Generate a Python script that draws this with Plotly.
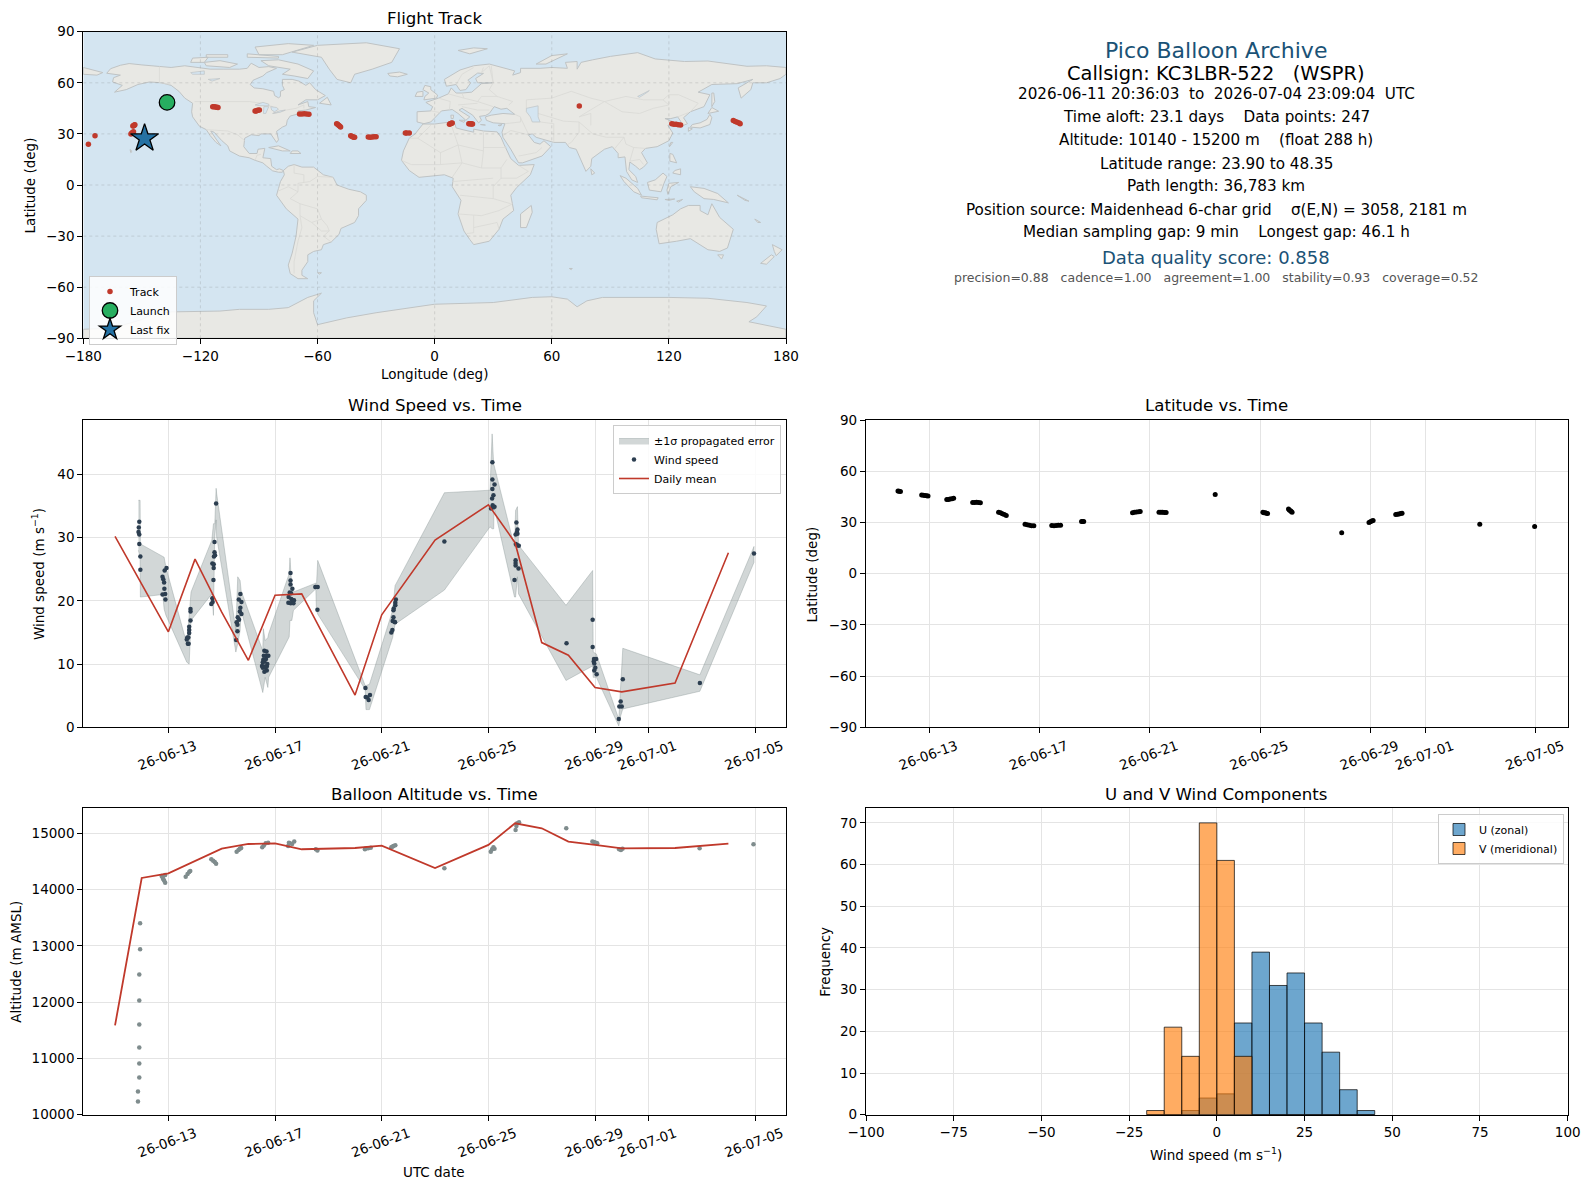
import numpy as np
import pandas as pd
import plotly.graph_objects as go

FIG_W = 1589
FIG_H = 1189

# land outlines (lon, lat)
north_america = [(-168,65.6),(-166,68.3),(-161,70.3),(-156.5,71.3),(-150,70.5),(-141,69.7),(-135,69),(-128,70),(-124,69.5),(-115,68),(-108,68),(-100,68),(-96,68.5),(-94,71.5),(-90,69),(-85,69.5),(-81,68.5),(-86,66),(-88,64),(-93,61.5),(-94.5,59),(-92.5,57),(-88,56.5),(-82.5,55),(-82,52.5),(-80,51.2),(-79,52),(-79,55),(-77,56),(-78,58.5),(-78,62),(-73,62),(-69.5,61),(-66,58.5),(-64,60),(-61,56),(-56,52.5),(-60,50),(-66,50),(-70,47),(-65,49),(-64.5,46),(-61,45.5),(-66,44),(-70,43.5),(-70,41.7),(-74,40.5),(-75.5,38),(-76,35),(-78,34),(-81,31.5),(-80,26.5),(-81,25),(-82.7,28),(-84,30),(-89,30),(-90,29),(-94,29.5),(-97.3,27.5),(-97.8,22.5),(-95,18.5),(-91,18.5),(-90.5,21),(-87,21.5),(-88,16),(-84,15.5),(-83.5,11),(-81,9),(-79.5,9.5),(-77.5,8.5),(-78,7.5),(-80,7.5),(-83,8.3),(-86,11),(-88,13),(-92,14.5),(-95,16),(-100,17),(-105,20),(-106,23),(-109,26),(-113,31),(-114.7,31.7),(-112,27),(-109.5,23),(-112,25),(-115,29),(-117,32.5),(-120.5,34.5),(-124,40),(-124.5,43),(-124,48),(-128,51),(-131,55),(-135,58.5),(-140,60),(-146,60.5),(-152,59),(-158,56),(-164,54.5),(-160,58.5),(-165,60.5),(-164.5,63),(-161,64.5)]
south_america = [(-77.5,8.5),(-75,11),(-72,12),(-68,10.5),(-62,10.5),(-57,6),(-52,4.5),(-50,0),(-44,-2.5),(-38,-4),(-35,-6),(-35,-9),(-39,-14),(-39,-18),(-41,-22),(-48,-25.5),(-49,-29),(-53,-33.5),(-57,-35),(-58,-38),(-62,-39),(-65,-41),(-65,-45),(-68,-50),(-68,-53),(-65,-55),(-70,-55),(-74,-52),(-75,-47),(-73,-40),(-71,-30),(-70,-20),(-76,-14),(-81,-6),(-80,-2),(-79,2),(-77,6)]
africa = [(-6,35.8),(0,35.8),(10,37.3),(11,33.5),(15,32.3),(20,31),(20,32.8),(25,31.7),(32,31.2),(34,28),(35.5,24),(37,20),(39,15.5),(43,11.5),(51,12),(49,6),(42,-1.5),(39,-6),(40.5,-15),(35,-20),(33,-26),(28,-33),(20,-35),(18,-32),(15,-27),(12,-17),(13.5,-9),(9,-1),(9.5,4),(5,6),(-4,5),(-8,4.5),(-13,8.5),(-17,14.5),(-16,20),(-13,27.5),(-10,30)]
eurasia = [(-9,37),(-9,43),(-2,43.5),(-1,46),(-4.5,48.5),(2,51),(7,53.5),(8.5,57),(11,54),(14,54),(19,54.5),(21.5,57),(24,59.5),(29.5,60),(22,60),(21,62.5),(25,65.5),(22,65.7),(17,61.5),(18.5,60),(16,56),(13,55.5),(11,59),(6,58),(5,62),(13,67.5),(20,70),(28,71),(41,67),(40,64.5),(44,66),(44,68.5),(54,68.5),(60,69),(68,68.5),(67,72),(73,72.5),(73,68),(75,72),(81,73.5),(90,75.5),(104,77.7),(113,74),(128,72.5),(140,72.8),(160,69.7),(170,70),(180,69),(180,65),(177,62.5),(170,60),(163,60),(162,56),(157,51),(155.5,57),(163,62),(155,59.5),(142,59),(135,54.5),(141,53),(138,46),(131,43),(127.5,39.5),(129.5,36),(126.5,34.5),(126,37.5),(124.5,40),(121,39),(118,39),(122.5,37),(119.5,35),(122,30.5),(120,26),(114,22.5),(108,21.5),(106,19),(109,13),(107,10.5),(105,9),(103,11),(100,13.5),(99.5,9),(103,5),(104,1.5),(101,3),(98.3,8),(97.5,16.5),(94,16),(94,18.5),(91,22.5),(87,21),(80.5,15.5),(80,11),(77.5,8),(73,20),(72.5,21),(69,22),(67,25),(61,25),(57,26.5),(52,28),(50,30),(48,29.5),(51,25),(54,24),(56,26),(59.5,22.5),(55,17),(45,13),(43,13),(39,21),(35,28),(34.5,31),(36,36),(30,36.5),(26.5,38),(26,40),(29,41),(35,42),(41,41.5),(37,45),(34,44.5),(30.5,46),(28,42),(26,40.8),(23,40.3),(24,38),(22.5,36.5),(19.5,41),(14,45),(12.5,44),(18,40),(16,38),(12,42),(9,44.3),(3.5,43.5),(0,39.5),(-2,37),(-5.5,36)]
chukotka = [(-180,69),(-175,67.5),(-170,66),(-173,64.5),(-180,65)]
greenland = [(-73,78),(-60,82),(-35,83.5),(-18,80),(-22,72),(-32,68),(-41,65),(-43,60),(-50,62),(-54,68),(-58,75)]
antarctica = [(-180,-90),(-180,-84.7),(-165,-84),(-150,-79),(-145,-76),(-135,-74.5),(-110,-74),(-100,-73),(-85,-73),(-75,-72),(-65,-66),(-58,-63.5),(-62,-68),(-62,-75),(-60,-82),(-45,-78),(-30,-75),(-13.5,-72.4),(0,-70),(30,-69),(50,-66),(60,-65.6),(68,-67),(73,-71.5),(78,-68),(86,-66),(120,-66),(140,-66.5),(160,-69),(170,-71),(165,-77.4),(161,-80.3),(180,-84.7),(180,-90)]
australia = [(114,-22),(122,-17.5),(126,-14),(130,-12),(136,-12),(136,-15),(140,-17.5),(142,-11),(146,-19),(153,-26),(150,-37),(146,-39),(140,-38),(135,-34.5),(131,-31.5),(124,-33),(115,-34.5),(113.5,-26)]
islands = [
    [(-24,65.5),(-18,66.3),(-14,65),(-19,63.5),(-23,64)],
    [(-5.5,50),(1,51),(1.5,52.8),(-2,56),(-2,57.7),(-5,58.5),(-6,56),(-3,54),(-5,52)],
    [(-10,52),(-6,52),(-6,55),(-9,54.5)],
    [(12,79),(20,80.5),(27,80),(18,77)],
    [(52,71),(57,71),(68,77),(60,76)],
    [(-80,73.5),(-70,71),(-62,67),(-65,62.5),(-72,64),(-78,65),(-74,68),(-85,70),(-89,73)],
    [(-117,70),(-105,69),(-101,71),(-110,73),(-118,72)],
    [(-90,76.5),(-78,76.5),(-62,82),(-75,83),(-92,81)],
    [(-125,72),(-118,72),(-116,75),(-124,74.5)],
    [(-96,75),(-80,74.5),(-80,75.5),(-96,77)],
    [(-117,75),(-106,75),(-106,76.5),(-117,76.5)],
    [(-59,48),(-53,47),(-55,51.5)],
    [(-85,22),(-80,23),(-74,20),(-78,20)],
    [(-74,18.5),(-68.5,18.5),(-70,20),(-73,20)],
    [(131,34),(136,33.5),(141,35.5),(142,39.5),(141,41.5),(139.5,38.5),(136,36.5),(132,35.5)],
    [(140,42),(145.5,43.3),(142,45.5)],
    [(130,31.5),(132,33),(130,33.7)],
    [(142,46),(143.5,49),(143,54),(142,54)],
    [(120.3,22.5),(122,25),(121,25)],
    [(120.5,18.5),(122,18),(124,13),(120.5,14)],
    [(122,7),(126,6),(126,9.5),(123,8.5)],
    [(109,1.5),(113,3),(117,7),(119,5),(117.5,1),(116,-4),(110,-3)],
    [(95,5.5),(98,4),(104,-2),(106,-6),(102,-4),(97,2)],
    [(105.5,-6.5),(114.5,-7.5),(114,-8.7),(106,-7.5)],
    [(119.5,-5.5),(121,-1),(125,1.5),(120,1),(119,-3)],
    [(131,-1),(138,-2),(145,-5),(150.5,-10.5),(143,-8.5),(138,-8),(133,-4)],
    [(145,-41),(148,-41),(147,-43.5)],
    [(173,-35),(178,-38),(175,-41.5),(174,-39)],
    [(172.5,-41),(174,-42),(170,-46.5),(167,-46)],
    [(49.5,-12),(50,-16),(47,-25),(44,-25),(44,-17)],
    [(80,9.5),(82,7),(80.5,6)],
    [(-156,20.8),(-155,19.7),(-155.7,19)],
    [(-60,-51.5),(-58,-51.5),(-59,-52.3)],
    [(12.5,38),(15.5,38),(15,36.8)],
    [(8.3,41),(9.7,41),(9.5,39),(8.5,39)],
    [(69,-49),(70.5,-49),(70,-49.7)],
    [(124,-9.5),(127,-8.5),(125,-10)],
    [(118,-8.5),(123,-8.2),(120,-9)],
    [(164,-20),(167,-22),(165.5,-22)],
    [(155,-6),(161,-9.5),(159,-9)],
    [(23.5,35.5),(26,35.2),(24.5,35)],
    [(32.5,35),(34.5,35.5),(33.5,34.7)],
]
inland_water = [
    [(47,45),(53,46.5),(53,40),(54,37),(50,37),(49,40),(47,43)],
    [(-92,47),(-88,48.5),(-85,47.5),(-85,46.5),(-90,46.6)],
    [(-87.5,46),(-85,46),(-86.5,42),(-87.7,42)],
    [(-84,46),(-81,45.5),(-80,44.5),(-82,43),(-83.5,44)],
    [(-83,42),(-79,42.8),(-76.5,44),(-79.5,43.5)],
    [(-125,66),(-118,67),(-118,65),(-124,65)],
    [(-116,62),(-110,62.5),(-114,61)],
    [(104,52),(110,55.5),(109,54.5),(105,51.5)],
]
borders = [
    [(-123,49),(-95,49),(-89,48),(-83,46),(-82,42),(-76,44),(-71,45),(-67,47),(-67,45)],
    [(-141,69.7),(-141,60),(-135,59)],
    [(-117,32.5),(-108,31.5),(-106,31.7),(-101,29.5),(-97.3,26)],
    [(-92,14.5),(-91,17.5),(-89,18)],
    [(-52,4.5),(-60,5),(-64,2),(-70,1),(-70,-4),(-74,-8),(-69,-11),(-60,-14),(-58,-20),(-55,-24),(-54,-27),(-57,-30),(-53,-33.5)],
    [(-69,-18),(-68,-25),(-70,-33),(-72,-45),(-72,-52)],
    [(-72,12),(-72,7),(-67,6),(-67,1.5)],
    [(-80,-3.5),(-75,-1),(-70,-4)],
    [(-69,-11),(-69,-18),(-63,-22),(-58,-20)],
    [(-63,-22),(-58,-27),(-54,-27)],
    [(-13,27.5),(-8.7,27.5),(-2,35)],
    [(-8.7,27.5),(3,19),(12,23.5),(10,30),(8,37)],
    [(12,23.5),(25,20),(25,31.7)],
    [(25,22),(37,22)],
    [(25,20),(24,10),(14,13),(12,23.5)],
    [(3,19),(3,12),(-12,12),(-17,14.5)],
    [(3,12),(14,13),(9,4.5)],
    [(24,10),(34,10),(37,15)],
    [(34,10),(34,4),(42,4),(48,8),(43,11.5)],
    [(34,4),(30,-1),(30,-8),(39,-11)],
    [(9,2),(18,3),(30,4)],
    [(13,-6),(30,-8)],
    [(12,-17),(24,-18),(33,-15),(40,-11)],
    [(20,-18),(20,-28),(16.5,-28.5)],
    [(20,-25),(32,-22),(33,-26)],
    [(28,70),(30,60),(28,56),(32,52),(40,49),(38,47)],
    [(47,45),(47,50),(60,51),(70,55),(80,51),(87,49),(98,52),(107,50),(117,50),(120,53),(125,53),(135,48),(131,43)],
    [(87,49),(96,43),(105,42),(112,45),(120,47),(117,50)],
    [(80,35),(80,42),(74,40),(87,49)],
    [(74,37),(78,33),(81,30),(88,28),(97,28),(98,24),(102,22),(108,21.5)],
    [(74,37),(74,31),(70,25),(68,23.7)],
    [(61,25),(61,36),(54,37)],
    [(48,30),(46,35),(44,39.5)],
    [(53,42),(66,37.5),(74,37)],
    [(36,36),(44,37),(44,40),(41,41.5)],
    [(35,29),(39,32),(48,29.5)],
    [(43,17),(52,19),(55,22)],
    [(-2,43.5),(3,42.5)],
    [(2,51),(8,49),(7.5,44)],
    [(7,53.5),(15,51),(14,54)],
    [(15,51),(22,49),(24,52),(32,52)],
    [(22,49),(30,46)],
    [(12,47),(22,48)],
    [(14,46),(22,44),(28,44)],
    [(11,59),(14,65),(20,69)],
    [(25,69),(24,66),(28,70)],
    [(30,60),(29,70)],
    [(97,28),(94,24),(92,21)],
    [(102,22),(100,14),(105,15),(107,12)],
    [(124.5,40),(130,42.5)],
]

# track: time as day of June 2026 (31 = 1 July), lat, lon
track_day = [11.86,11.90,11.95, 12.72,12.78,12.84,12.90,12.95, 13.63,13.69,13.75,13.82,13.88,
             14.57,14.64,14.71,14.78,14.85, 15.51,15.58,15.65,15.72,15.79, 16.47,16.55,16.63,16.71,16.79,
             17.44,17.52,17.60,17.68,17.76, 18.52,18.56,18.60, 20.37,20.44,20.52,20.60,20.65,
             21.33,21.40,21.46,21.53,21.59, 23.37, 25.10,25.14,25.19,25.23,25.27,
             26.03,26.06,26.10,26.13,26.16, 27.96, 28.95,29.00,29.05,29.10,
             29.92,29.98,30.04,30.10,30.15, 32.97, 34.96]
track_lat = [48.35,48.2,48.1, 46.0,45.9,45.8,45.6,45.5, 43.4,43.5,43.7,43.9,44.1,
             41.7,41.7,41.8,41.7,41.6, 36.0,35.6,35.1,34.6,34.1, 28.9,28.6,28.3,28.1,28.0,
             28.2,28.1,28.2,28.3,28.3, 30.5,30.6,30.6, 35.7,35.9,36.1,36.3,36.4,
             35.9,36.0,35.9,35.8,35.8, 46.4, 35.9,35.7,35.6,35.4,35.2,
             37.8,37.3,36.9,36.4,35.9, 23.9, 30.0,30.4,30.8,31.2,
             34.7,34.8,35.0,35.2,35.4, 28.9, 27.6]
track_lon = [-137.2,-136.9,-136.5, -113.7,-113.0,-112.3,-111.6,-111.0, -92.0,-91.5,-91.0,-90.5,-89.8,
             -69.2,-68.0,-66.8,-65.6,-64.4, -50.2,-49.7,-49.2,-48.7,-48.2, -43.0,-42.5,-42.0,-41.5,-41.0,
             -34.0,-33.0,-32.0,-31.0,-30.0, -15.0,-14.3,-13.0, 7.6,8.0,8.3,8.6,9.0,
             17.5,18.0,18.5,19.0,19.4, 74.1, 121.5,122.6,123.7,124.8,126.0,
             153.0,154.0,155.0,156.0,156.5, -177.4, -155.6,-155.2,-154.8,-154.3,
             -154.6,-154.3,-154.0,-153.8,-153.6, -174.0, -148.6]
launch_lon = [-137.1]
launch_lat = [48.5]
last_lon = [-148.6]
last_lat = [27.4]

# wind speed points
wind_day = [11.91,11.89,11.88,11.91,11.91,11.95,11.95,
            12.93,12.86,12.78,12.81,12.84,12.85,12.88,12.78,12.89,
            13.83,13.83,13.83,13.78,13.78,13.78,13.71,13.69,13.75,13.73,13.76,
            14.79,14.73,14.73,14.75,14.71,14.65,14.70,14.70,14.69,14.65,14.66,14.61,
            15.70,15.64,15.74,15.70,15.68,15.74,15.60,15.65,15.56,15.59,15.59,15.54,
            16.60,16.68,16.58,16.68,16.75,16.56,16.66,16.54,16.60,16.71,16.51,16.59,16.69,16.54,16.64,16.69,16.60,
            17.58,17.58,17.58,17.65,17.55,17.60,17.51,17.61,17.65,17.71,17.50,17.59,17.69,
            18.51,18.60,18.59,
            20.39,20.40,20.46,20.56,20.51,
            21.53,21.51,21.51,21.45,21.44,21.44,21.41,21.48,21.50,21.40,21.36,
            23.35,
            25.15,25.15,25.23,25.15,25.19,25.14,25.16,25.23,25.10,25.19,
            26.05,26.09,26.07,26.02,26.09,26.03,26.09,26.14,26.02,26.02,26.02,26.13,25.98,
            27.93,
            28.91,28.91,28.96,29.04,28.95,28.97,29.01,28.97,29.06,
            30.04,29.96,29.91,30.00,29.89,
            32.93,34.96]
wind_speed = [32.5,31.6,30.9,30.5,29.0,27.0,24.9,
              25.2,24.8,23.8,23.4,22.9,21.9,21.1,21.0,20.2,
              18.7,18.3,16.9,15.9,15.4,14.9,14.2,13.9,14.2,13.2,13.2,
              35.4,29.3,27.7,27.2,27.0,25.9,25.8,25.2,23.3,20.4,19.8,19.5,
              21.1,20.2,19.8,18.9,18.3,17.9,17.4,17.0,16.6,16.2,15.2,13.8,
              12.1,12.0,11.3,11.3,11.3,10.7,10.8,10.3,10.4,10.0,9.7,9.6,9.6,9.4,9.4,9.0,8.8,
              24.4,23.2,22.6,21.9,21.3,21.2,20.6,20.3,20.1,20.1,19.7,19.6,19.6,
              22.2,22.2,18.6,
              6.2,4.8,4.7,5.1,4.3,
              20.2,19.7,19.3,18.8,18.5,17.4,16.8,16.7,16.6,15.4,15.0,
              29.4,
              41.9,39.2,38.4,37.7,36.7,36.2,35.1,34.9,34.6,34.8,
              32.4,31.3,30.9,30.5,30.6,29.0,28.8,28.7,26.4,26.0,25.6,25.1,23.3,
              13.3,
              17.0,12.7,10.8,10.8,10.4,10.1,9.4,9.0,8.4,
              7.6,4.1,3.3,3.3,1.3,
              7.0,27.5]

# outline of the +-1 sigma band
band_day = [11.875,11.94,11.95,12.79,12.84,12.91,13.69,13.78,13.85,14.63,14.69,14.74,14.79,14.81,
            15.53,15.60,15.69,15.73,16.54,16.56,16.63,16.73,16.76,17.53,17.56,17.63,17.69,18.53,18.55,18.60,
            20.38,20.41,20.54,21.41,21.50,23.35,25.06,25.14,25.20,25.21,25.98,26.02,26.09,26.13,
            27.91,28.91,28.93,29.05,29.89,29.96,30.04,32.93,34.96]
band_hi = [35.9,35.9,29.0,26.9,26.9,25.3,13.2,17.7,21.4,29.6,32.2,32.2,37.8,37.0,
           15.3,23.8,23.2,21.6,12.1,15.6,13.7,14.2,14.8,24.3,26.8,22.2,21.4,22.8,22.2,26.4,
           6.6,6.6,6.8,18.5,22.4,37.1,37.5,46.4,41.5,41.5,28.5,34.3,34.9,28.8,
           19.3,24.8,11.9,11.6,1.3,6.6,12.5,8.3,28.6]
band_lo = [28.0,26.9,20.6,21.0,18.7,17.7,10.3,10.0,16.9,21.1,17.7,30.1,32.8,30.1,
           11.9,13.2,15.3,18.5,5.5,5.5,7.9,6.3,7.9,14.3,16.9,16.9,18.5,21.9,18.5,17.9,
           6.0,2.8,2.8,14.2,16.3,21.7,31.7,31.4,31.4,34.9,20.6,20.6,23.8,21.1,
           7.4,9.7,7.9,7.9,0.2,1.8,2.9,5.7,26.1]

wind_mean_day = [11,13,14,15,16,17,18,20,21,23,25,26,27,28,29,30,32,34]
wind_mean = [30.2,15.1,26.6,18.2,10.6,20.9,21.1,5.1,17.8,29.6,35.2,29.2,13.4,11.4,6.3,5.6,7.0,27.6]

# altitude points
alt_day = [11.94,11.94,11.91,11.91,11.91,11.91,11.91,11.91,11.86,11.86,
           12.75,12.78,12.81,12.84,12.88,12.88,
           13.65,13.72,13.78,13.82, 14.61,14.68,14.74,14.79,
           15.56,15.63,15.68,15.73, 16.52,16.58,16.65,16.74,
           17.49,17.56,17.64,17.72,17.52, 18.53,18.59,
           20.37,20.49,20.59,20.40, 21.36,21.44,21.51,21.40,
           23.35, 25.09,25.14,25.19,25.23, 26.02,26.05,26.08,26.15,
           27.92, 28.90,28.96,29.03,29.08, 29.90,29.97,30.03, 32.92,34.94]
alt_m = [13400,12940,12493,12031,11604,11196,10911,10662,10413,10236,
         14241,14218,14182,14159,14123,14259,
         14230,14277,14313,14330, 14538,14514,14490,14461,
         14674,14704,14727,14739, 14751,14781,14822,14834,
         14775,14822,14810,14852,14834, 14716,14692,
         14716,14733,14745,14728, 14751,14775,14787,14763,
         14378, 14674,14716,14751,14727, 15059,15130,15178,15196,
         15089, 14852,14846,14834,14822, 14716,14704,14727, 14733,14804]
alt_mean_day = [11,12,13,15,16,17,18,20,21,23,25,26,27,28,29,30,32,34]
alt_mean = [11587,14206,14289,14727,14810,14822,14716,14739,14781,14384,14793,15178,15089,14852,14793,14733,14739,14816]

# histogram bins
hist_centers = [-17.5,-12.5,-7.5,-2.5,2.5,7.5,12.5,17.5,22.5,27.5,32.5,37.5,42.5]
u_counts = [0,0,1,4,5,22,39,31,34,22,15,6,1]
v_counts = [1,21,14,70,61,14,0,0,0,0,0,0,0]

date_tick_days = [13,17,21,25,29,31,35]
date_tick_text = ["26-06-13","26-06-17","26-06-21","26-06-25","26-06-29","26-07-01","26-07-05"]

info_lines = [
    ("Pico Balloon Archive", 50.5, 22, "#1a5276"),
    ("Callsign: KC3LBR-522   (WSPR)", 73, 19.4, "#000000"),
    ("2026-06-11 20:36:03  to  2026-07-04 23:09:04  UTC", 94, 15.2, "#000000"),
    ("Time aloft: 23.1 days    Data points: 247", 117.5, 15.2, "#000000"),
    ("Altitude: 10140 - 15200 m    (float 288 h)", 140.5, 15.2, "#000000"),
    ("Latitude range: 23.90 to 48.35", 163.5, 15.2, "#000000"),
    ("Path length: 36,783 km", 186.5, 15.2, "#000000"),
    ("Position source: Maidenhead 6-char grid    σ(E,N) = 3058, 2181 m", 209.5, 15.2, "#000000"),
    ("Median sampling gap: 9 min    Longest gap: 46.1 h", 232.5, 15.2, "#000000"),
    ("Data quality score: 0.858", 257, 18, "#1a5276"),
    ("precision=0.88   cadence=1.00   agreement=1.00   stability=0.93   coverage=0.52", 277.5, 12.5, "#555555"),
]

FONT = "DejaVu Sans"
RED = "#c0392b"
GRID = "#e4e4e4"


def to_dates(days):
    return pd.Timestamp("2026-06-01") + pd.to_timedelta(np.array(days, dtype=float) - 1, unit="D")


def outline(polys):
    # join polygons with None gaps for one trace
    xs, ys = [], []
    for poly in polys:
        for lon, lat in poly:
            xs.append(lon)
            ys.append(lat)
        xs.append(None)
        ys.append(None)
    return xs, ys


def closed(polys):
    return [list(p) + [p[0]] for p in polys]


def dom_x(left, right):
    return [left / FIG_W, right / FIG_W]


def dom_y(top, bottom):
    return [1 - bottom / FIG_H, 1 - top / FIG_H]


def axis(**kw):
    a = dict(showline=True, linecolor="black", linewidth=1.2, mirror=True, ticks="outside",
             ticklen=5, tickwidth=1.1, tickcolor="black", showgrid=True, gridcolor=GRID, gridwidth=1,
             zeroline=False, automargin=False, tickfont=dict(size=13.5, color="black", family=FONT))
    a.update(kw)
    return a


def date_axis(first, **kw):
    return axis(type="date", range=[to_dates([first])[0], to_dates([36.16])[0]],
                tickmode="array", tickvals=list(to_dates(date_tick_days)), ticktext=date_tick_text,
                tickangle=-20, ticklabelshift=27, **kw)


fig = go.Figure()

# map panel
land = [north_america, south_america, africa, eurasia, chukotka, greenland, antarctica, australia] + islands
lx, ly = outline(closed(land))
fig.add_trace(go.Scatter(x=lx, y=ly, mode="lines", fill="toself", fillcolor="#e8e8e4",
                         line=dict(color="#bfc3c4", width=1), hoverinfo="skip", showlegend=False,
                         xaxis="x", yaxis="y"))
bx, by = outline(borders)
fig.add_trace(go.Scatter(x=bx, y=by, mode="lines", line=dict(color="#d9d9d5", width=0.8),
                         hoverinfo="skip", showlegend=False, xaxis="x", yaxis="y"))
wx, wy = outline(closed(inland_water))
fig.add_trace(go.Scatter(x=wx, y=wy, mode="lines", fill="toself", fillcolor="#d4e5f1",
                         line=dict(color="#bfc3c4", width=0.7), hoverinfo="skip", showlegend=False,
                         xaxis="x", yaxis="y"))
fig.add_trace(go.Scatter(x=track_lon, y=track_lat, mode="markers", name="Track",
                         marker=dict(color=RED, size=5.5), xaxis="x", yaxis="y", legend="legend"))
fig.add_trace(go.Scatter(x=launch_lon, y=launch_lat, mode="markers", name="Launch",
                         marker=dict(color="#27ae60", size=15.5, line=dict(color="black", width=1.3)),
                         xaxis="x", yaxis="y", legend="legend"))
fig.add_trace(go.Scatter(x=last_lon, y=last_lat, mode="markers", name="Last fix",
                         marker=dict(color="#2471a3", size=21, symbol="star", line=dict(color="black", width=1.3)),
                         xaxis="x", yaxis="y", legend="legend"))

# wind panel
band_x = list(to_dates(band_day)) + list(to_dates(band_day[::-1]))
band_y = band_hi + band_lo[::-1]
fig.add_trace(go.Scatter(x=band_x, y=band_y, mode="lines", fill="toself", name="±1σ propagated error",
                         fillcolor="rgba(127,140,141,0.35)", line=dict(color="rgba(127,140,141,0.35)", width=1),
                         hoverinfo="skip", xaxis="x2", yaxis="y2", legend="legend2"))
fig.add_trace(go.Scatter(x=to_dates(wind_day), y=wind_speed, mode="markers", name="Wind speed",
                         marker=dict(color="#2c3e50", size=4.5), xaxis="x2", yaxis="y2", legend="legend2"))
fig.add_trace(go.Scatter(x=to_dates(wind_mean_day), y=wind_mean, mode="lines", name="Daily mean",
                         line=dict(color=RED, width=1.6), xaxis="x2", yaxis="y2", legend="legend2"))

# latitude panel
fig.add_trace(go.Scatter(x=to_dates(track_day), y=track_lat, mode="markers", showlegend=False,
                         marker=dict(color="black", size=5), xaxis="x3", yaxis="y3"))

# altitude panel
fig.add_trace(go.Scatter(x=to_dates(alt_day), y=alt_m, mode="markers", showlegend=False,
                         marker=dict(color="#7f8c8d", size=4.5), xaxis="x4", yaxis="y4"))
fig.add_trace(go.Scatter(x=to_dates(alt_mean_day), y=alt_mean, mode="lines", showlegend=False,
                         line=dict(color=RED, width=1.8), xaxis="x4", yaxis="y4"))

# histogram panel
fig.add_trace(go.Bar(x=hist_centers, y=u_counts, width=5, name="U (zonal)",
                     marker=dict(color="rgba(31,119,180,0.65)", line=dict(color="rgba(0,0,0,0.7)", width=1)),
                     xaxis="x5", yaxis="y5", legend="legend3"))
fig.add_trace(go.Bar(x=hist_centers, y=v_counts, width=5, name="V (meridional)",
                     marker=dict(color="rgba(255,127,14,0.65)", line=dict(color="rgba(0,0,0,0.7)", width=1)),
                     xaxis="x5", yaxis="y5", legend="legend3"))

LEFT = (83.3, 786)
RIGHT = (866, 1567.7)
ROW1 = (31.7, 338.3)
ROW2 = (420, 727.3)
ROW3 = (808.3, 1114.7)

legend_font = dict(size=11, color="black", family=FONT)
legend_box = dict(bgcolor="rgba(255,255,255,0.85)", bordercolor="#cccccc", borderwidth=1, font=legend_font,
                  xanchor="left", yanchor="top", itemclick=False, itemdoubleclick=False)

fig.update_layout(
    width=FIG_W, height=FIG_H, autosize=False, margin=dict(l=0, r=0, t=0, b=0),
    paper_bgcolor="white", plot_bgcolor="white", barmode="overlay", hovermode=False,
    font=dict(family=FONT, color="black"),
    xaxis=axis(domain=dom_x(*LEFT), range=[-180, 180], tickvals=list(range(-180, 181, 60)),
               anchor="y", showgrid=False),
    yaxis=axis(domain=dom_y(*ROW1), range=[-90, 90], tickvals=list(range(-90, 91, 30)),
               anchor="x", showgrid=False),
    xaxis2=date_axis(9.81, domain=dom_x(*LEFT), anchor="y2"),
    yaxis2=axis(domain=dom_y(*ROW2), range=[0, 48.6], tickvals=[0, 10, 20, 30, 40], anchor="x2"),
    xaxis3=date_axis(10.7, domain=dom_x(*RIGHT), anchor="y3"),
    yaxis3=axis(domain=dom_y(*ROW2), range=[-90, 90], tickvals=list(range(-90, 91, 30)), anchor="x3"),
    xaxis4=date_axis(9.81, domain=dom_x(*LEFT), anchor="y4"),
    yaxis4=axis(domain=dom_y(*ROW3), range=[10000, 15444], tickvals=list(range(10000, 15001, 1000)),
                tickformat="d", anchor="x4"),
    xaxis5=axis(domain=dom_x(*RIGHT), range=[-100, 100], tickvals=list(range(-100, 101, 25)), anchor="y5"),
    yaxis5=axis(domain=dom_y(*ROW3), range=[0, 73.5], tickvals=list(range(0, 71, 10)), anchor="x5"),
    legend=dict(x=89 / FIG_W, y=1 - 276 / FIG_H, itemsizing="trace", **legend_box),
    legend2=dict(x=613 / FIG_W, y=1 - 425 / FIG_H, **legend_box),
    legend3=dict(x=1438 / FIG_W, y=1 - 814 / FIG_H, **legend_box),
)

# ocean background and dotted graticule on the map
shapes = [dict(type="rect", xref="x", yref="y", x0=-180, x1=180, y0=-90, y1=90, layer="below",
               fillcolor="#d4e5f1", line=dict(width=0))]
for lon in range(-120, 121, 60):
    shapes.append(dict(type="line", xref="x", yref="y", x0=lon, x1=lon, y0=-90, y1=90, layer="above",
                       line=dict(color="rgba(120,120,120,0.28)", width=0.8, dash="dot")))
for lat in range(-60, 61, 30):
    shapes.append(dict(type="line", xref="x", yref="y", x0=-180, x1=180, y0=lat, y1=lat, layer="above",
                       line=dict(color="rgba(120,120,120,0.28)", width=0.8, dash="dot")))
fig.update_layout(shapes=shapes)

annotations = []
panel_titles = [("Flight Track", 434.7, 18.5), ("Wind Speed vs. Time", 434.7, 405.5), ("Latitude vs. Time", 1216, 405.5),
                ("Balloon Altitude vs. Time", 434.7, 794.5), ("U and V Wind Components", 1216, 794.5)]
for text, x_px, y_px in panel_titles:
    annotations.append(dict(text=text, xref="paper", yref="paper", x=x_px / FIG_W, y=1 - y_px / FIG_H,
                            xanchor="center", yanchor="middle", showarrow=False,
                            font=dict(size=16.6, color="black", family=FONT)))

sup = "m s<sup>−1</sup>"
axis_titles = [("Longitude (deg)", 434.7, 374, 0), ("Latitude (deg)", 30.4, 185, -90),
               (f"Wind speed ({sup})", 37.5, 574.6, -90), ("Latitude (deg)", 812, 574.6, -90),
               ("Altitude (m AMSL)", 16, 961.7, -90), ("UTC date", 433.7, 1171.5, 0),
               (f"Wind speed ({sup})", 1216, 1154, 0), ("Frequency", 825, 961.7, -90)]
for text, x_px, y_px, angle in axis_titles:
    annotations.append(dict(text=text, xref="paper", yref="paper", x=x_px / FIG_W, y=1 - y_px / FIG_H,
                            xanchor="center", yanchor="middle", showarrow=False, textangle=angle,
                            font=dict(size=13.5, color="black", family=FONT)))

for text, y_px, size, color in info_lines:
    annotations.append(dict(text=text, xref="paper", yref="paper", x=1216 / FIG_W, y=1 - y_px / FIG_H,
                            xanchor="center", yanchor="middle", showarrow=False,
                            font=dict(size=size, color=color, family=FONT)))
fig.update_layout(annotations=annotations)

fig.write_html("out.html", config=dict(displayModeBar=False), post_script="document.body.style.margin='0';")
